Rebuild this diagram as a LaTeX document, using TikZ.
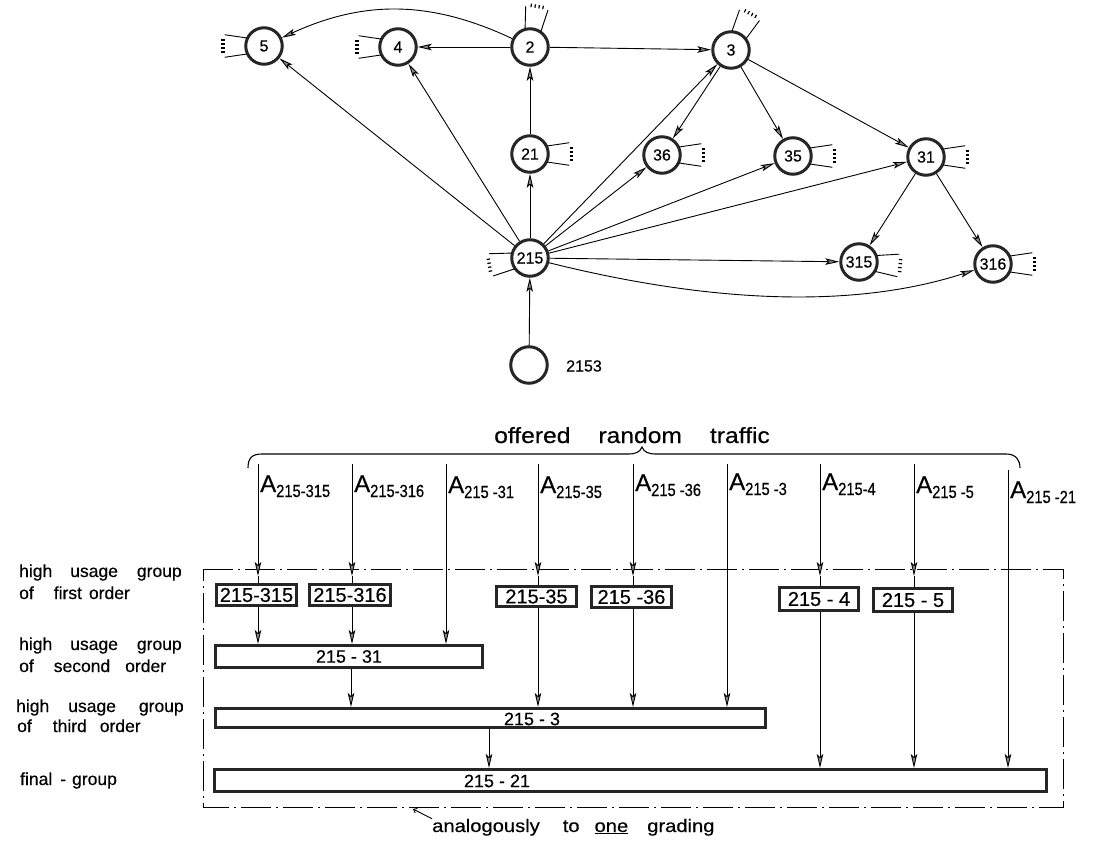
\documentclass[tikz,border=0pt]{standalone}
\usepackage{fontspec}
\setmainfont[FakeBold=0.4]{Liberation Sans}
\newfontfamily\narrowfont[FakeStretch=0.84,FakeBold=0.4]{Liberation Sans}
\newfontfamily\widefont[FakeStretch=1.12,FakeBold=0.4]{Liberation Sans}
\usetikzlibrary{arrows.meta}
\newcommand\wsp[1]{\hspace{#1pt}}
\newcommand\Alab[1]{{\fontsize{24}{24}\selectfont A}\raisebox{-5pt}{\narrowfont\fontsize{17.5}{17.5}\selectfont #1}}

\begin{document}
\begin{tikzpicture}[x=1pt,y=1pt,
  dart/.tip={Stealth[length=14pt,width=6.5pt,inset=3pt,fill=black!45,line width=0.9pt]},
  nd/.style={circle,draw=black!85,line width=3pt,fill=white,minimum size=36.5pt,inner sep=0pt,font=\fontsize{16}{16}\selectfont},
  ed/.style={line width=0.9pt,-dart},
  ln/.style={line width=0.9pt},
  fan/.pic={
    \draw[line width=0.9pt] (25:19) -- (16:41) (-25:19) -- (-16:41);
    \foreach \o in {-6,-2,2,6} \draw[line width=1.2pt] (39.5,\o) -- (43,\o);
  },
  bx/.style={draw=black!85,line width=2.6pt,fill=white,inner sep=0pt,font=\fontsize{20}{20}\selectfont},
  bxt/.style={inner sep=0pt,font=\fontsize{18}{18}\selectfont},
  side/.style={anchor=base west,inner sep=0pt,font=\fontsize{17.5}{17.5}\selectfont},
  alab/.style={anchor=base west,inner sep=0pt},
  frame/.style={line width=1pt,dash pattern=on 30pt off 5pt on 2pt off 5pt},
]
\useasboundingbox (0,0) rectangle (1098,-842);

% ---------------- routing graph ----------------
\node[nd] (n5)   at (264,-46)  {5};
\node[nd] (n4)   at (398,-47)  {4};
\node[nd] (n2)   at (530,-47)  {2};
\node[nd] (n3)   at (731,-50)  {3};
\node[nd] (n21)  at (530,-154) {21};
\node[nd] (n36)  at (662,-155) {36};
\node[nd] (n35)  at (793,-156) {35};
\node[nd] (n31)  at (926,-157) {31};
\node[nd] (n215) at (530,-258) {215};
\node[nd] (n315) at (859,-262) {315};
\node[nd] (n316) at (993,-264) {316};
\node[nd] (n2153) at (529,-365) {};
\node[inner sep=0pt,font=\fontsize{16}{16}\selectfont] (l2153) at (584,-366) {2153};

\draw[ed] (n2) to[bend right=25] (n5);
\draw[ed] (n2) -- (n4);
\draw[ed] (n2) -- (n3);
\draw[ed] (n21) -- (n2);
\draw[ed] (n215) -- (n21);
\draw[ed] (n215) -- (n5);
\draw[ed] (n215) -- (n4);
\draw[ed] (n215) -- (n3);
\draw[ed] (n215) -- (n36);
\draw[ed] (n215) -- (n35);
\draw[ed] (n215) -- (n31);
\draw[ed] (n215) -- (n315);
\draw[ed] (n215) to[out=-14,in=198,looseness=0.85] (n316);
\draw[ed] (n3) -- (n36);
\draw[ed] (n3) -- (n35);
\draw[ed] (n3) -- (n31);
\draw[ed] (n31) -- (n315);
\draw[ed] (n31) -- (n316);
\draw[ed] (n2153) -- (n215);

% outgoing trunk bundles
\pic[rotate=180] at (n5) {fan};
\pic[rotate=180] at (n4) {fan};
\pic[rotate=80]  at (n2) {fan};
\pic[rotate=62]  at (n3) {fan};
\pic[rotate=0]   at (n21) {fan};
\pic[rotate=0]   at (n36) {fan};
\pic[rotate=0]   at (n35) {fan};
\pic[rotate=0]   at (n31) {fan};
\pic[rotate=190] at (n215) {fan};
\pic[rotate=-5]  at (n315) {fan};
\pic[rotate=0]   at (n316) {fan};

% ---------------- grading ----------------
\node[anchor=base,inner sep=0pt,font=\widefont\fontsize{22}{22}\selectfont] (title) at (632,-443)
  {offered\wsp{28}random\wsp{28}traffic};
\draw[line width=1.1pt] (248,-468) .. controls (248,-458) and (252,-454) .. (262,-454) -- (628,-454)
  .. controls (636,-454) and (640,-452) .. (642,-447)
  .. controls (644,-452) and (648,-454) .. (656,-454) -- (1006,-454)
  .. controls (1016,-454) and (1020,-460) .. (1020,-468);

% frame of the grading
\coordinate (fTL) at (203,-569);
\coordinate (fBR) at (1063,-807);
\draw[frame] (fTL) -- (fTL -| fBR) -- (fBR) -- (fBR -| fTL) -- cycle;
\coordinate (tipy) at (0,-576);

% groups
\node[bx,minimum width=80.4pt,minimum height=21.4pt] (b315) at (256.5,-595) {215-315};
\node[bx,minimum width=81.4pt,minimum height=21.4pt] (b316) at (350,-595) {215-316};
\node[bx,minimum width=80.4pt,minimum height=20.4pt] (b35) at (536.5,-596.5) {215-35};
\node[bx,minimum width=80.4pt,minimum height=21.4pt] (b36) at (631.5,-597) {215 -36};
\node[bx,minimum width=79.4pt,minimum height=23.4pt] (b4) at (819,-599) {215 - 4};
\node[bx,minimum width=79.4pt,minimum height=23.4pt] (b5) at (913,-600) {215 - 5};
\node[bx,minimum width=267.4pt,minimum height=22.4pt,font=\fontsize{18}{18}\selectfont] (b31) at (349,-656.5) {215 - 31};
\node[bx,minimum width=550.4pt,minimum height=19.4pt] (b3) at (490.5,-718) {};
\node[bx,minimum width=832.4pt,minimum height=22.4pt] (b21) at (630.5,-780.5) {};
\node[bxt] (t3) at (532,-719) {215 - 3};
\node[bxt] (t21) at (497,-781) {215 - 21};

% offered traffic streams
\coordinate (c1) at (258,-464);
\coordinate (c2) at (352,-464);
\coordinate (c3) at (446,-464);
\coordinate (c4) at (538,-464);
\coordinate (c5) at (633,-464);
\coordinate (c6) at (727,-464);
\coordinate (c7) at (820,-464);
\coordinate (c8) at (914,-464);
\coordinate (c9) at (1008,-470);

\node[alab] (a1) at (260,-492) {\Alab{215-315}};
\node[alab] (a2) at (354,-492) {\Alab{215-316}};
\node[alab] (a3) at (448,-493) {\Alab{215 -31}};
\node[alab] (a4) at (540,-493) {\Alab{215-35}};
\node[alab] (a5) at (635,-491) {\Alab{215 -36}};
\node[alab] (a6) at (729,-490) {\Alab{215 -3}};
\node[alab] (a7) at (822,-490) {\Alab{215-4}};
\node[alab] (a8) at (916,-493) {\Alab{215 -5}};
\node[alab] (a9) at (1010,-498) {\Alab{215 -21}};

% first order
\draw[ed] (c1) -- (c1 |- tipy);  \draw[ln] (c1 |- tipy) -- (c1 |- b315.north);
\draw[ed] (c2) -- (c2 |- tipy);  \draw[ln] (c2 |- tipy) -- (c2 |- b316.north);
\draw[ed] (c4) -- (c4 |- tipy);  \draw[ln] (c4 |- tipy) -- (c4 |- b35.north);
\draw[ed] (c5) -- (c5 |- tipy);  \draw[ln] (c5 |- tipy) -- (c5 |- b36.north);
\draw[ed] (c7) -- (c7 |- tipy);  \draw[ln] (c7 |- tipy) -- (c7 |- b4.north);
\draw[ed] (c8) -- (c8 |- tipy);  \draw[ln] (c8 |- tipy) -- (c8 |- b5.north);
% overflow to second order
\draw[ed] (c1 |- b315.south) -- (c1 |- b31.north);
\draw[ed] (c2 |- b316.south) -- (c2 |- b31.north);
\draw[ed] (c3) -- (c3 |- b31.north);
% overflow to third order
\draw[ed] ([xshift=2pt]b31.south) -- ([xshift=2pt]b31.south |- b3.north);
\draw[ed] (c4 |- b35.south) -- (c4 |- b3.north);
\draw[ed] (c5 |- b36.south) -- (c5 |- b3.north);
\draw[ed] (c6) -- (c6 |- b3.north);
% overflow to final group
\coordinate (o3) at (489,0);
\draw[ed] (o3 |- b3.south) -- (o3 |- b21.north);
\draw[ed] (c7 |- b4.south) -- (c7 |- b21.north);
\draw[ed] (c8 |- b5.south) -- (c8 |- b21.north);
\draw[ed] (c9) -- (c9 |- b21.north);

% row captions
\node[side] (s1a) at (19,-577) {high\wsp{18}usage\wsp{19}group};
\node[side] (s1b) at (19,-599) {of\wsp{20}first\wsp{7}order};
\node[side] (s2a) at (19,-650) {high\wsp{18}usage\wsp{19}group};
\node[side] (s2b) at (19,-672) {of\wsp{20}second\wsp{15}order};
\node[side] (s3a) at (16,-712) {high\wsp{19}usage\wsp{23}group};
\node[side] (s3b) at (17,-732) {of\wsp{21}third\wsp{13}order};
\node[side] (s4)  at (20,-785) {final\wsp{8}-\wsp{6}group};

% note below the frame
\node[anchor=base west,inner sep=0pt,font=\widefont\fontsize{18}{18}\selectfont] (ana) at (432,-832)
  {analogously\wsp{23}to\wsp{15}\underline{one}\wsp{19}grading};
\coordinate (lead) at (413,-809);
\draw[line width=0.9pt,{Straight Barb[length=3pt,width=5pt]}-] (lead) -- (ana.north west);
\end{tikzpicture}
\end{document}
